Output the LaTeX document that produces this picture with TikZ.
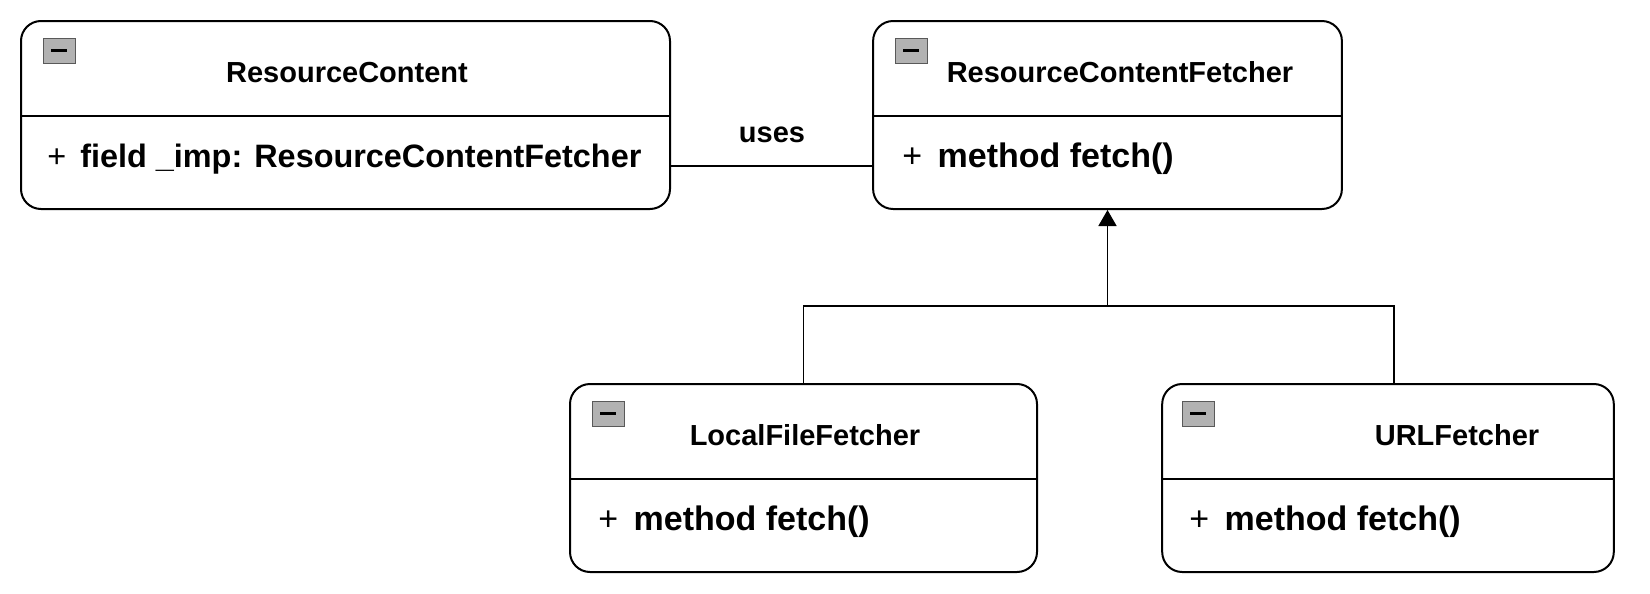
\documentclass[tikz,border=0pt]{standalone}
\usepackage{fontspec}
\setmainfont{Liberation Sans}
\usetikzlibrary{arrows.meta}

\begin{document}
\begin{tikzpicture}[x=0.5pt,y=-0.5pt,
    classbox/.style={draw,line width=1pt,rounded corners=10pt,minimum height=94pt,inner sep=0pt},
    title/.style={anchor=base,inner sep=0pt,font=\bfseries\fontsize{14.5}{17}\selectfont},
    member/.style={anchor=base west,inner sep=0pt,font=\bfseries\fontsize{17}{20}\selectfont},
    toggle/.style={draw=gray!70!black,fill=gray!60,line width=0.4pt,minimum width=16pt,minimum height=12.5pt,inner sep=0pt,anchor=north west},
    sep/.style={line width=0.6pt},
    link/.style={line width=0.8pt}]
    \useasboundingbox (0,0) rectangle (1650,594);
    \node[classbox,minimum width=324.5pt](rc) at (345.5,115) {};
    \node[classbox,minimum width=234.4pt](rcf) at (1107.5,115) {};
    \node[classbox,minimum width=233.5pt](lff) at (803.5,478) {};
    \node[classbox,minimum width=225.8pt](uf) at (1388,478) {};
    \draw[sep] (rc.west |- 0,116) -- (rc.east |- 0,116);
    \draw[sep] (rcf.west |- 0,116) -- (rcf.east |- 0,116);
    \draw[sep] (lff.west |- 0,479) -- (lff.east |- 0,479);
    \draw[sep] (uf.west |- 0,479) -- (uf.east |- 0,479);
    \node[toggle](rctoggle) at (43,38) {\rule{8pt}{1.5pt}};
    \node[toggle](rcftoggle) at (895,38) {\rule{8pt}{1.5pt}};
    \node[toggle](lfftoggle) at (592,401) {\rule{8pt}{1.5pt}};
    \node[toggle](uftoggle) at (1182,401) {\rule{8pt}{1.5pt}};
    \node[title](rctitle) at (347,82) {ResourceContent};
    \node[title](rcftitle) at (1120,82) {ResourceContentFetcher};
    \node[title](lfftitle) at (805,445) {LocalFileFetcher};
    \node[title](uftitle) at (1457,445) {URLFetcher};
    \node[member,font=\bfseries\fontsize{16.2}{20}\selectfont](rcfield) at (47,167) {\textmd{+}\hspace{2.5pt} field \_imp: ResourceContentFetcher};
    \node[member](rcfmethod) at (902,167) {\textmd{+}\hspace{3pt} method fetch()};
    \node[member](lffmethod) at (598,530) {\textmd{+}\hspace{3pt} method fetch()};
    \node[member](ufmethod) at (1189,530) {\textmd{+}\hspace{3pt} method fetch()};
    \node[title](uses) at (772,142) {uses};
    \draw[link] (rc.east |- 0,166) -- (rcf.west |- 0,166);
    \coordinate(bar) at (rcf.south |- 0,306);
    \draw[link,-{Triangle[length=8pt,width=9pt]}] (bar) -- (rcf.south);
    \draw[link] (lff.north) |- (bar) -| ([xshift=3pt]uf.north);
\end{tikzpicture}
\end{document}
